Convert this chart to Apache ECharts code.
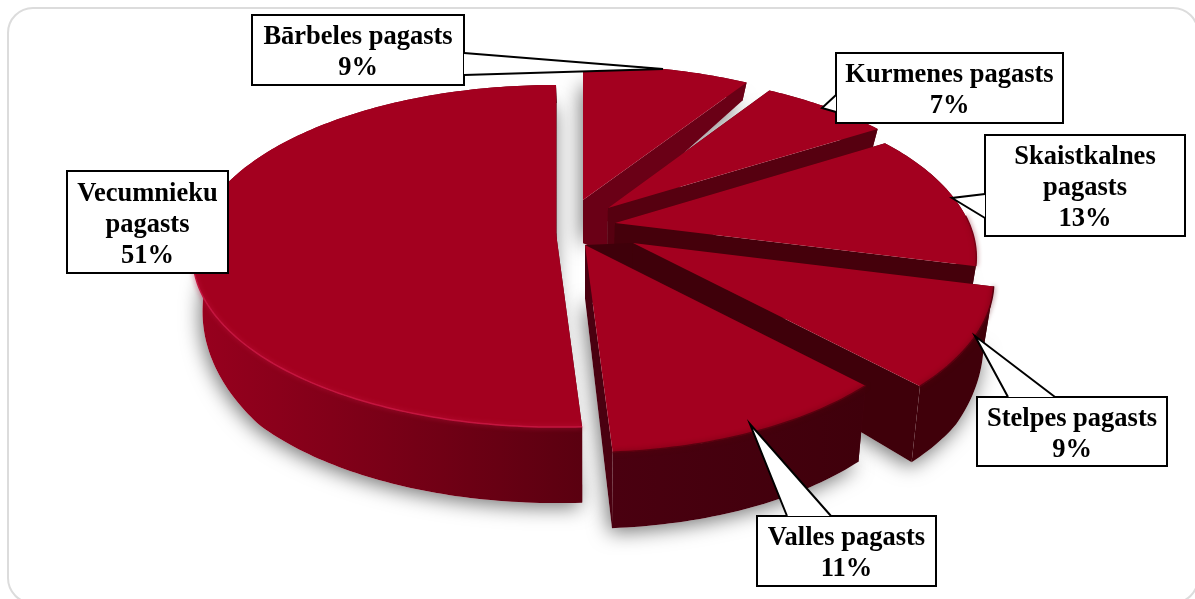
<!DOCTYPE html>
<html>
<head>
<meta charset="utf-8">
<style>
  html, body { margin: 0; padding: 0; background: #fff; }
  #pie3d { width: 1195px; height: 599px; }
</style>
<script src="https://cdn.jsdelivr.net/npm/echarts@6/dist/echarts.min.js"></script>
</head>
<body>
<div id="pie3d"></div>
<script>
// data, clockwise from 12 o'clock
const categories = ['Bārbeles pagasts', 'Kurmenes pagasts', 'Skaistkalnes pagasts', 'Stelpes pagasts', 'Valles pagasts', 'Vecumnieku pagasts'];
const shares = [9, 7, 13, 9, 11, 51];

// how each slice is pulled away from the middle, px on screen
const centre = [585, 233];
const pullX = [-2, 23, 30, 48, 0, -29];
const pullY = [-33, -25, -10, 10, 12, 0];
// perspective of each slice
const radiusX = [362, 357, 354, 352, 344, 360];
const radiusY = [165, 165, 165, 165, 162, 168];
const depth = [0.22, 0.22, 0.2, 0.22, 0.22, 0.1345];

// colours
const topColor = '#a3001f';
const faceColors = ['#6a0016', '#560010', '#45000b', '#3f000a', '#4a0010', '#5a0010'];
const wallColors = [
  ['#6a0016', '#6a0016'],
  ['#560010', '#560010'],
  ['#45000b', '#45000b'],
  ['#40000a', '#40000a'],
  ['#4a0010', '#3f000b'],
  ['#98001e', '#5a0010']
];
const rimColors = ['#a3001f', '#a3001f', '#7a0016', '#5a000f', '#5a000f', '#c4153f'];

// callouts: box [x, y, w, h] and pointer [tip, base1, base2]
const boxes = [
  [252, 15, 212, 70],
  [836, 53, 227, 70],
  [985, 135, 200, 101],
  [977, 397, 190, 69],
  [757, 516, 179, 70],
  [67, 171, 161, 102]
];
const pointers = [
  [[663, 69], [464, 53], [464, 75]],
  [[822, 108], [836, 95], [836, 112]],
  [[952, 198], [985, 194], [985, 218]],
  [[975, 336], [1008, 397], [1055, 397]],
  [[750, 424], [787, 516], [831, 516]],
  null
];
const wrapLabel = [false, false, true, false, false, true];

const total = shares.reduce((a, b) => a + b, 0);

function angles(i) {
  let from = 0;
  for (let j = 0; j < i; j++) from += shares[j];
  return [from / total * 360, (from + shares[i]) / total * 360];
}

function toScreen(i, deg) {
  const t = deg * Math.PI / 180;
  const X = Math.sin(t), Y = Math.cos(t);
  const f = 1 + depth[i] * Y;
  return [
    centre[0] + pullX[i] + radiusX[i] * X / f,
    centre[1] + pullY[i] - radiusY[i] * Y / f
  ];
}

function apex(i) {
  return [centre[0] + pullX[i], centre[1] + pullY[i]];
}

// wall gets taller towards the viewer
function down(p) {
  const h = Math.min(76, Math.max(18, 18 + 0.22 * (p[1] - 85)));
  return [p[0] - (p[0] - centre[0]) * 0.025, p[1] + h];
}

function arc(i, from, to) {
  const pts = [];
  const n = Math.max(2, Math.ceil(Math.abs(to - from)));
  for (let s = 0; s <= n; s++) pts.push(toScreen(i, from + (to - from) * s / n));
  return pts;
}

function renderShadow(params, api) {
  const i = params.dataIndex;
  const a = angles(i);
  const rim = arc(i, a[0], a[1]);
  const foot = [down(apex(i))].concat(rim.map(down));
  return {
    type: 'polygon',
    shape: { points: foot },
    style: {
      fill: '#fff',
      shadowBlur: 20,
      shadowColor: 'rgba(0,0,0,0.55)',
      shadowOffsetY: 4,
      shadowOffsetX: -2
    }
  };
}

function renderSlice(params, api) {
  const i = params.dataIndex;
  const a = angles(i);
  const rim = arc(i, a[0], a[1]);
  const c = apex(i);
  const children = [];

  // dark core between this slice's tip and the next one's
  if (i < 4) {
    const n = apex(i + 1);
    children.push({
      type: 'polygon',
      shape: { points: [c, n, down(n), down(c)] },
      style: { fill: faceColors[i] }
    });
  }

  [rim[0], rim[rim.length - 1]].forEach(function (p) {
    children.push({
      type: 'polygon',
      shape: { points: [c, p, down(p), down(c)] },
      style: { fill: faceColors[i] }
    });
  });

  const xs = rim.map(p => p[0]);
  const minX = Math.min.apply(null, xs), maxX = Math.max.apply(null, xs);
  children.push({
    type: 'polygon',
    shape: { points: rim.concat(rim.map(down).reverse()) },
    style: {
      fill: new echarts.graphic.LinearGradient(minX, 0, maxX, 0, [
        { offset: 0, color: wallColors[i][0] },
        { offset: 1, color: wallColors[i][1] }
      ], true)
    }
  });

  children.push({
    type: 'polygon',
    shape: { points: [c].concat(rim) },
    style: { fill: topColor }
  });

  // soft edge on the side that faces the viewer
  const front = [];
  rim.forEach(function (p, k) {
    const deg = a[0] + (a[1] - a[0]) * k / (rim.length - 1);
    if (Math.cos(deg * Math.PI / 180) < 0.05) front.push(p);
  });
  if (front.length > 1) {
    children.push({
      type: 'polyline',
      shape: { points: front },
      style: {
        fill: null,
        stroke: rimColors[i],
        lineWidth: 1.5,
        shadowBlur: 5,
        shadowColor: rimColors[i]
      }
    });
  }
  return { type: 'group', children: children };
}

function renderCallout(params, api) {
  const i = params.dataIndex;
  const b = boxes[i];
  const children = [];
  const p = pointers[i];
  children.push({
    type: 'rect',
    shape: { x: b[0], y: b[1], width: b[2], height: b[3] },
    style: { fill: '#fff', stroke: '#000', lineWidth: 2 }
  });
  if (p) {
    children.push({
      type: 'polygon',
      shape: { points: p },
      style: { fill: '#fff', stroke: null }
    });
    children.push({
      type: 'polyline',
      shape: { points: [p[1], p[0], p[2]] },
      style: { fill: null, stroke: '#000', lineWidth: 2 }
    });
  }
  const name = wrapLabel[i] ? categories[i].replace(' ', '\n') : categories[i];
  children.push({
    type: 'text',
    style: {
      x: b[0] + b[2] / 2,
      y: b[1] + b[3] / 2 + 3,
      text: name + '\n' + api.value(0) + '%',
      fill: '#000',
      font: 'bold 26.5px "Liberation Serif"',
      lineHeight: 31,
      align: 'center',
      verticalAlign: 'middle'
    }
  });
  return { type: 'group', children: children };
}

const myChart = echarts.init(document.getElementById('pie3d'));
myChart.setOption({
  animation: false,
  graphic: [{
    type: 'rect',
    z: -1,
    shape: { x: 8, y: 8, width: 1190, height: 595, r: 25 },
    style: { fill: '#fff', stroke: '#dcdcdc', lineWidth: 2 }
  }],
  series: [
    { type: 'custom', coordinateSystem: 'none', silent: true, z: 1, renderItem: renderShadow, data: shares },
    { type: 'custom', coordinateSystem: 'none', silent: true, z: 2, renderItem: renderSlice, data: shares },
    { type: 'custom', coordinateSystem: 'none', silent: true, z: 3, renderItem: renderCallout, data: shares }
  ]
});
</script>
</body>
</html>
